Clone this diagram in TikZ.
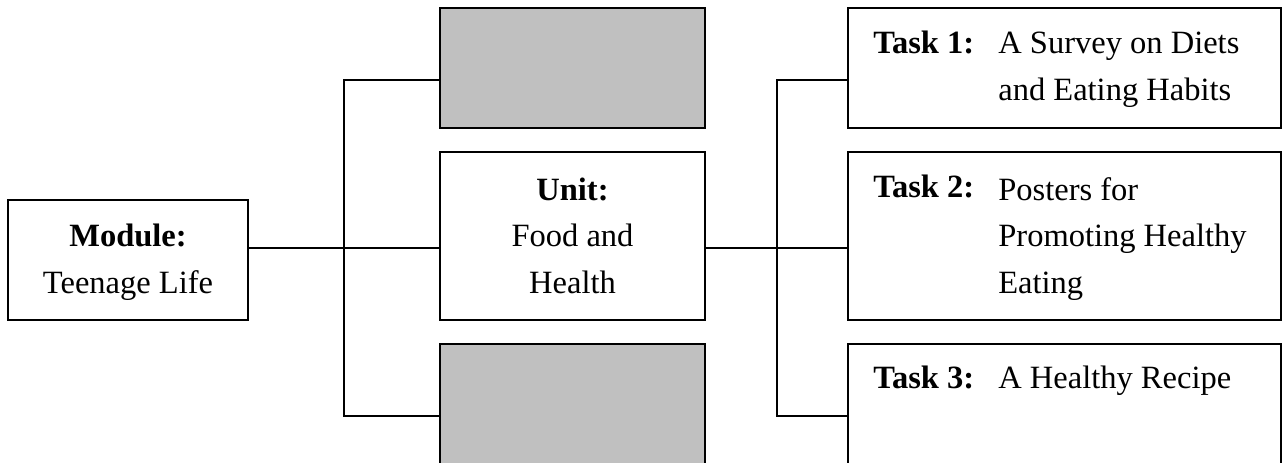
\documentclass[tikz,border=0pt]{standalone}
\usepackage{fontspec}
\setmainfont{Liberation Serif}
\definecolor{boxgray}{RGB}{192,192,192}
\tikzset{
  box/.style={draw, line width=1.1pt, inner sep=0pt},
  graybox/.style={box, fill=boxgray},
  link/.style={line width=1.1pt},
  txt/.style={font=\fontsize{18.5}{26.5}\selectfont, inner sep=0pt}
}
\begin{document}
\begin{tikzpicture}[x=0.02cm,y=-0.02cm]
\useasboundingbox (0,0) rectangle (1282,463);
\clip (0,0) rectangle (1282,463);
\fill[white] (0,0) rectangle (1282,463);
\node[box, minimum width=4.8cm, minimum height=2.4cm] (module) at (128,260) {};
\node[graybox, minimum width=5.3cm, minimum height=2.4cm] (gtop) at (572.5,68) {};
\node[box, minimum width=5.3cm, minimum height=3.36cm] (unit) at (572.5,236) {};
\node[graybox, minimum width=5.3cm, minimum height=2.4cm] (gbot) at (572.5,404) {};
\node[box, minimum width=8.66cm, minimum height=2.4cm] (task1) at (1064.5,68) {};
\node[box, minimum width=8.66cm, minimum height=3.36cm] (task2) at (1064.5,236) {};
\node[box, minimum width=8.66cm, minimum height=2.4cm] (task3) at (1064.5,404) {};
\node[txt, anchor=base, align=center] (modtxt) at (128,293.3) {\textbf{Module:}\\Teenage Life};
\node[txt, anchor=base, align=center] (unittxt) at (572.5,293.3) {\textbf{Unit:}\\Food and\\Health};
\node[txt, anchor=base west] (t1) at (873,53) {\textbf{Task 1:}};
\node[txt, anchor=base west, align=left] (t1txt) at (998,100) {A Survey on Diets\\and Eating Habits};
\node[txt, anchor=base west] (t2) at (873,197.3) {\textbf{Task 2:}};
\node[txt, anchor=base west, align=left] (t2txt) at (998,293.3) {Posters for\\Promoting Healthy\\Eating};
\node[txt, anchor=base west] (t3) at (873,388.3) {\textbf{Task 3:}};
\node[txt, anchor=base west] (t3txt) at (998,388.3) {A Healthy Recipe};
\coordinate (ltop) at (344,80);
\coordinate (lmid) at (344,248);
\coordinate (lbot) at (344,416);
\coordinate (rtop) at (777,80);
\coordinate (rmid) at (777,248);
\coordinate (rbot) at (777,416);
\draw[link] (module.east |- lmid) -- (lmid -| unit.west);
\draw[link] (ltop -| gtop.west) -- (ltop) -- (lbot) -- (lbot -| gbot.west);
\draw[link] (unit.east |- rmid) -- (rmid -| task2.west);
\draw[link] (rtop -| task1.west) -- (rtop) -- (rbot) -- (rbot -| task3.west);
\end{tikzpicture}
\end{document}
